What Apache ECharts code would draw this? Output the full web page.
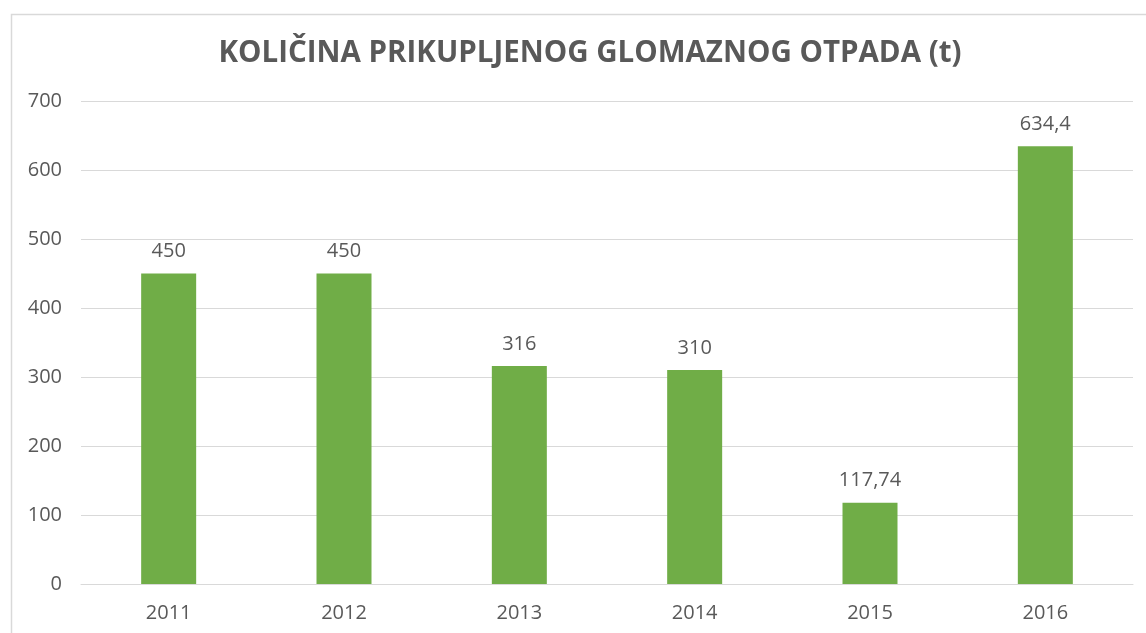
<!DOCTYPE html>
<html>
<head>
<meta charset="utf-8">
<script src="https://cdn.jsdelivr.net/npm/echarts@6/dist/echarts.min.js"></script>
<style>html,body{margin:0;padding:0;background:#fff}#c{width:1146px;height:633px}</style>
</head>
<body>
<div id="c"></div>
<script>
var titleText = 'KOLIČINA PRIKUPLJENOG GLOMAZNOG OTPADA (t)';
var categories = ['2011', '2012', '2013', '2014', '2015', '2016'];
var values = [450, 450, 316, 310, 117.74, 634.4];
var yTicks = [0, 100, 200, 300, 400, 500, 600, 700];

var chart = echarts.init(document.getElementById('c'));
var font = '"Open Sans", sans-serif';
chart.setOption({
  animation: false,
  backgroundColor: '#fff',
  title: {
    text: titleText,
    left: 585, top: 34, textAlign: 'center',
    textStyle: {fontFamily: font, fontSize: 29.5, fontWeight: 'bold', color: '#595959'}
  },
  graphic: [{
    type: 'rect', left: 9, top: 12,
    shape: {width: 1150, height: 640},
    style: {fill: 'none', stroke: '#d9d9d9', lineWidth: 1.5},
    silent: true
  }],
  grid: {left: 81, right: 13, top: 101, bottom: 49, containLabel: false},
  xAxis: {
    type: 'category', data: categories,
    axisLine: {lineStyle: {color: '#d9d9d9', width: 1}},
    axisTick: {show: false},
    axisLabel: {color: '#595959', fontFamily: font, fontSize: 20, margin: 19}
  },
  yAxis: {
    type: 'value', min: yTicks[0], max: yTicks[yTicks.length - 1], interval: 100,
    axisLine: {show: false}, axisTick: {show: false},
    splitLine: {lineStyle: {color: '#d9d9d9', width: 1}},
    axisLabel: {color: '#595959', fontFamily: font, fontSize: 20, margin: 19}
  },
  series: [{
    type: 'bar', data: values, barWidth: 55,
    itemStyle: {color: '#70AD47'},
    label: {
      show: true, position: 'top', distance: 12,
      color: '#595959', fontFamily: font, fontSize: 20,
      formatter: function (p) { return String(p.value).replace('.', ','); }
    }
  }]
});
</script>
</body>
</html>
